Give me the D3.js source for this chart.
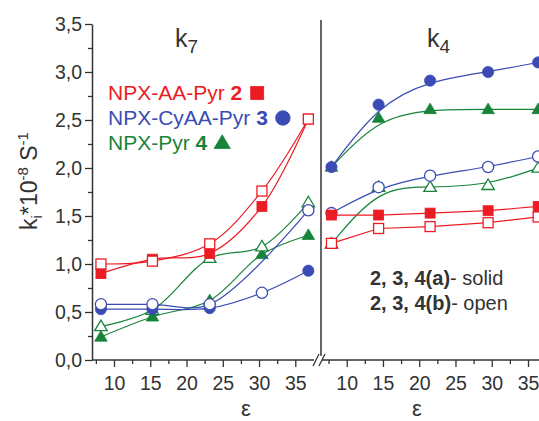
<!DOCTYPE html>
<html>
<head>
<meta charset="utf-8">
<script src="https://cdn.jsdelivr.net/npm/d3@7"></script>
<style>
  body { margin: 0; background: #fff; }
  svg { display: block; font-family: Arial, "Liberation Sans", sans-serif; }
</style>
</head>
<body>
<div id="chart"></div>
<script>
// tick values
const yTicks = [0, 0.5, 1, 1.5, 2, 2.5, 3, 3.5];
const yMinor = [0.25, 0.75, 1.25, 1.75, 2.25, 2.75, 3.25];
const xTicks = [10, 15, 20, 25, 30, 35];
const xMinor = [7.5, 12.5, 17.5, 22.5, 27.5, 32.5];
const xMinorRight = [7.5, 12.5, 17.5, 22.5, 27.5, 32.5];

// solvent dielectric constants, as placed in each panel
const epsK7 = [8.2, 15.3, 23.2, 30.4, 36.8];
const epsK4 = [7.9, 14.4, 21.5, 29.5, 36.4];

// k7 panel (ki * 10^-8)
const k7_2a = [0.90, 1.05, 1.11, 1.60, 2.51];
const k7_2b = [1.00, 1.03, 1.21, 1.76, 2.51];
const k7_3a = [0.53, 0.53, 0.54, 0.70, 0.93];
const k7_3b = [0.58, 0.58, 0.58, null, 1.56];
const k7_4a = [0.24, 0.45, 0.62, 1.10, 1.30];
const k7_4b = [0.35, 0.52, 1.06, 1.18, 1.64];
// the point at index 3 of 3a is drawn hollow in the original
const k7_3a_hollow = [3];

// k4 panel
const k4_2a = [1.51, 1.51, 1.53, 1.555, 1.60];
const k4_2b = [1.215, 1.37, 1.39, 1.43, 1.49];
const k4_3a = [2.01, 2.66, 2.91, 3.00, 3.10];
const k4_3b = [1.53, 1.80, 1.92, 2.01, 2.12];
const k4_4a = [2.01, 2.52, 2.61, 2.61, 2.61];
const k4_4b = [1.21, 1.80, 1.80, 1.82, 2.00];

const legendNames = ["NPX-AA-Pyr ", "NPX-CyAA-Pyr ", "NPX-Pyr "];
const legendNums = ["2", "3", "4"];

const RED = "#ec1c24", BLUE = "#3a4cb4", GREEN = "#17843a", INK = "#333";
const colors = [RED, BLUE, GREEN];
const shapes = ["square", "circle", "triangle"];

const width = 539, height = 421;
const svg = d3.select("#chart").append("svg")
  .attr("width", width).attr("height", height);

const y = d3.scaleLinear().domain([0, 3.5]).range([360, 24]);
const xL = d3.scaleLinear().domain([10, 35]).range([114, 295.3]);
const xR = d3.scaleLinear().domain([10, 35]).range([346.7, 528]);

const fmt = d => d3.format(".1f")(d).replace(".", ",");

// ---- y axis
const yAxis = svg.append("g").attr("transform", "translate(92,0)")
  .call(d3.axisLeft(y).tickValues(yTicks).tickFormat(fmt).tickSize(7).tickSizeOuter(0).tickPadding(3));
svg.append("g").attr("transform", "translate(92,0)")
  .call(d3.axisLeft(y).tickValues(yMinor).tickFormat("").tickSize(4))
  .call(g => g.select(".domain").remove());

// ---- x axes
function xAxis(scale, minor) {
  const g = svg.append("g").attr("transform", "translate(0,360)");
  g.call(d3.axisBottom(scale).tickValues(xTicks).tickFormat(d3.format("d")).tickSize(7).tickPadding(9))
    .call(g => g.select(".domain").remove());
  g.append("g")
    .call(d3.axisBottom(scale).tickValues(minor).tickFormat("").tickSize(4))
    .call(g => g.select(".domain").remove());
  return g;
}
xAxis(xL, xMinor);
xAxis(xR, xMinorRight);

svg.selectAll(".tick line").attr("stroke", INK).attr("stroke-width", 1.3);
svg.selectAll(".tick text").attr("fill", INK).style("font-size", "19.5px")
  .style("font-family", "Arial, 'Liberation Sans', sans-serif");
yAxis.select(".domain").attr("stroke", INK).attr("stroke-width", 1.5);

// axis lines with the break
svg.append("line").attr("x1", 92).attr("x2", xL(37.6)).attr("y1", 360).attr("y2", 360)
  .attr("stroke", INK).attr("stroke-width", 1.5);
svg.append("line").attr("x1", 322).attr("x2", width).attr("y1", 360).attr("y2", 360)
  .attr("stroke", INK).attr("stroke-width", 1.5);
svg.append("rect").attr("x", 314).attr("y", 354).attr("width", 8).attr("height", 12).attr("fill", "#fff");
[[313, 319], [319, 325]].forEach(([a, b]) => {
  svg.append("line").attr("x1", a).attr("y1", 366).attr("x2", b).attr("y2", 354)
    .attr("stroke", INK).attr("stroke-width", 1.3);
});

// divider between panels
svg.append("line").attr("x1", 321).attr("x2", 321).attr("y1", 20).attr("y2", 356)
  .attr("stroke", INK).attr("stroke-width", 1.5);

// ---- series
function series(eps, vals, scale, color, shape, curve, hollow, hollowIdx) {
  const pts = eps.map((e, i) => ({ e, v: vals[i], i })).filter(d => d.v != null);
  const line = d3.line().x(d => scale(d.e)).y(d => y(d.v)).curve(curve);
  svg.append("path").datum(pts).attr("d", line)
    .attr("fill", "none").attr("stroke", color).attr("stroke-width", 1.2);
  const g = svg.append("g");
  pts.forEach(d => {
    const open = hollow || (hollowIdx || []).includes(d.i);
    marker(g, scale(d.e), y(d.v), shape, color, open, 1);
  });
}

function marker(g, cx, cy, shape, color, open, k) {
  let m;
  if (shape === "square") {
    const s = 10 * k;
    m = g.append("rect").attr("x", cx - s / 2).attr("y", cy - s / 2).attr("width", s).attr("height", s);
  } else if (shape === "circle") {
    m = g.append("circle").attr("cx", cx).attr("cy", cy).attr("r", 5.6 * k);
  } else {
    const h = 10.5 * k, w = 12.5 * k;
    m = g.append("path").attr("d", `M${cx},${cy - h * 0.6}L${cx + w / 2},${cy + h * 0.4}L${cx - w / 2},${cy + h * 0.4}Z`);
  }
  m.attr("fill", open ? "#fff" : color).attr("stroke", color).attr("stroke-width", open ? 1.3 : 0.8);
}

const cr = d3.curveCatmullRom.alpha(0.5);
series(epsK7, k7_4a, xL, GREEN, "triangle", cr, false);
series(epsK7, k7_4b, xL, GREEN, "triangle", cr, true);
series(epsK7, k7_3a, xL, BLUE, "circle", cr, false, k7_3a_hollow);
series(epsK7, k7_3b, xL, BLUE, "circle", cr, true);
series(epsK7, k7_2a, xL, RED, "square", cr, false);
series(epsK7, k7_2b, xL, RED, "square", cr, true);

series(epsK4, k4_4b, xR, GREEN, "triangle", d3.curveBasis, true);
series(epsK4, k4_3b, xR, BLUE, "circle", d3.curveBasis, true);
series(epsK4, k4_2b, xR, RED, "square", d3.curveLinear, true);
series(epsK4, k4_2a, xR, RED, "square", d3.curveLinear, false);
series(epsK4, k4_4a, xR, GREEN, "triangle", d3.curveBasis, false);
series(epsK4, k4_3a, xR, BLUE, "circle", d3.curveBasis, false);

// ---- panel titles
[["7", 175], ["4", 427]].forEach(([sub, x]) => {
  const t = svg.append("text").attr("x", x).attr("y", 47).attr("fill", INK).style("font-size", "25px");
  t.append("tspan").text("k");
  t.append("tspan").attr("dy", 6).style("font-size", "19px").text(sub);
});

// ---- epsilon labels
[246, 417].forEach(x => {
  svg.append("text").attr("x", x).attr("y", 416).attr("text-anchor", "middle")
    .attr("fill", INK).style("font-size", "22px").text("ε");
});

// ---- y title
const yt = svg.append("text").attr("transform", "translate(37,181) rotate(-90)")
  .attr("text-anchor", "middle").attr("fill", INK).style("font-size", "23px");
yt.append("tspan").text("k");
yt.append("tspan").attr("dy", 5).style("font-size", "15px").text("i");
yt.append("tspan").attr("dy", -5).text("*10");
yt.append("tspan").attr("dy", -9).style("font-size", "15px").text("-8");
yt.append("tspan").attr("dy", 9).text(" S");
yt.append("tspan").attr("dy", -9).style("font-size", "15px").text("-1");

// ---- legend
legendNames.forEach((name, i) => {
  const by = 100 + i * 25;
  const t = svg.append("text").attr("x", 108).attr("y", by).attr("fill", colors[i]).style("font-size", "21px");
  t.append("tspan").text(name);
  t.append("tspan").style("font-weight", "bold").text(legendNums[i]);
  const end = 108 + t.node().getComputedTextLength();
  marker(svg, end + 15, by - 7, shapes[i], colors[i], false, 1.3);
});

// ---- note
[["2, 3, 4(a)", "- solid"], ["2, 3, 4(b)", "- open"]].forEach(([b, n], i) => {
  const t = svg.append("text").attr("x", 370).attr("y", 285 + i * 25).attr("fill", INK).style("font-size", "20px");
  t.append("tspan").style("font-weight", "bold").text(b);
  t.append("tspan").text(n);
});
</script>
</body>
</html>
